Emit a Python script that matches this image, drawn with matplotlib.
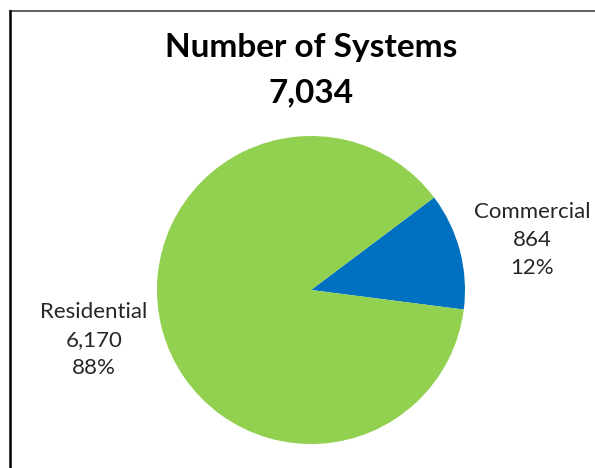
import matplotlib.pyplot as plt
from matplotlib.lines import Line2D

# data
labels = ['Commercial', 'Residential']
values = [864, 6170]
colors = ['#0070C0', '#92D050']
total = sum(values)

W, H = 595, 468
fig = plt.figure(figsize=(W / 100, H / 100), dpi=100)
plt.rcParams['font.family'] = ['Lato', 'DejaVu Sans']

# pie axes: center ~ (311, 290) px, radius ~ 154 px
cx, cy, r = 311, 290, 154
ax = fig.add_axes([(cx - r) / W, (H - cy - r) / H, 2 * r / W, 2 * r / H])
ax.pie(values, colors=colors, startangle=-7.3, counterclock=True,
       radius=1, wedgeprops=dict(linewidth=0))
ax.set_xlim(-1, 1)
ax.set_ylim(-1, 1)
ax.axis('off')

# title
fig.text(311 / W, 1 - 48 / H, 'Number of Systems', ha='center', va='center',
         fontsize=24, fontweight='bold')
fig.text(311 / W, 1 - 93 / H, f'{total:,}', ha='center', va='center',
         fontsize=24, fontweight='bold')

# labels
pos = {'Commercial': (532, 240), 'Residential': (94, 340)}
for lab, v in zip(labels, values):
    x, y = pos[lab]
    txt = f'{lab}\n{v:,}\n{v / total:.0%}'
    fig.text(x / W, 1 - y / H, txt, ha='center', va='center', fontsize=16,
             linespacing=1.48, color='#262626')

# frame lines (top and left)
fig.add_artist(Line2D([10 / W, 1], [1 - 10.5 / H, 1 - 10.5 / H], color='#444444',
                      linewidth=1.2, transform=fig.transFigure))
fig.add_artist(Line2D([10 / W, 10 / W], [0, 1 - 10.5 / H], color='black',
                      linewidth=1.8, transform=fig.transFigure))

fig.savefig('out.png', dpi=100)
